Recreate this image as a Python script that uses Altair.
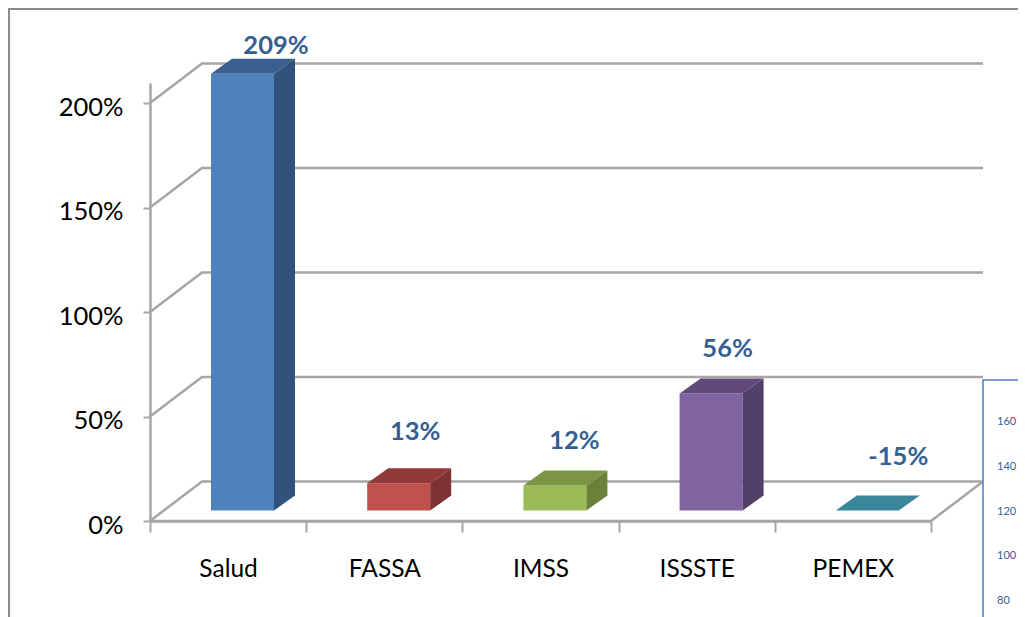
import altair as alt
import pandas as pd

# ---- chart values ----
categories = ["Salud", "FASSA", "IMSS", "ISSSTE", "PEMEX"]
values = [2.09, 0.13, 0.12, 0.56, -0.15]
value_labels = ["209%", "13%", "12%", "56%", "-15%"]
y_ticks = [0, 0.5, 1.0, 1.5, 2.0]
inset_ticks = [160, 140, 120, 100, 80]

# ---- styles ----
front_colors = ["#4f81bd", "#c0504d", "#9bbb59", "#8064a2", "#31859c"]
side_colors = ["#31527b", "#7d3331", "#6b8039", "#523f6a", "#31859c"]
top_colors = ["#3a6091", "#8f3a38", "#7b9544", "#604a7b", "#3a869b"]
GRID = "#a6a6a6"
FONT = "Lato"

# ---- geometry: one category = 156.2 px, 100% = 209 px ----
PW, PH = 781, 438
PX_U = PW / 5
PX_V = PH / 2.096
FLOOR_DX = 52 / PX_U
FLOOR_DY = 39.5 / PX_V
BAR_X = 61 / PX_U
BAR_W = 63 / PX_U
BAR_BASE = 10.5 / PX_V
BAR_DX = 21 / PX_U
BAR_DY = 15 / PX_V
label_dx_px = [33.5, 16.5, 19.5, 16.5, 31]
label_dy_px = [28, 51, 44, 44, 54]

xs = alt.Scale(domain=[0, 5], nice=False, zero=False)
ys = alt.Scale(domain=[0, 2.096], nice=False, zero=False)

bars = pd.DataFrame({"cat": categories, "v": values, "front": front_colors,
                     "side": side_colors, "top": top_colors})
bars["i"] = range(5)
bars["x0"] = bars.i + BAR_X
bars["x1"] = bars.x0 + BAR_W
bars["base"] = BAR_BASE
bars["vtop"] = BAR_BASE + bars.v.clip(lower=0)

side_rows, top_rows = [], []
for r in bars.itertuples():
    if r.v > 0:
        side_rows += [
            dict(cat=r.cat, c=r.side, x=r.x1, y=r.base, y2=r.vtop),
            dict(cat=r.cat, c=r.side, x=r.x1 + BAR_DX, y=r.base + BAR_DY, y2=r.vtop + BAR_DY),
        ]
    top_rows += [
        dict(cat=r.cat, c=r.top, y=r.vtop, x=r.x0, x2=r.x1),
        dict(cat=r.cat, c=r.top, y=r.vtop + BAR_DY, x=r.x0 + BAR_DX, x2=r.x1 + BAR_DX),
    ]

grid_rows = []
for t in y_ticks:
    grid_rows += [
        dict(t=t, o=0, x=0, y=t),
        dict(t=t, o=1, x=FLOOR_DX, y=t + FLOOR_DY),
        dict(t=t, o=2, x=5 + FLOOR_DX, y=t + FLOOR_DY),
    ]
grid_rows += [
    dict(t=-1, o=0, x=0, y=0),
    dict(t=-1, o=1, x=5, y=0),
    dict(t=-1, o=2, x=5 + FLOOR_DX, y=FLOOR_DY),
]

labels = pd.DataFrame({
    "label": value_labels,
    "x": [i + BAR_X + BAR_W / 2 + d / PX_U for i, d in enumerate(label_dx_px)],
    "y": [b + d / PX_V for b, d in zip(bars.vtop, label_dy_px)],
})

inset = pd.DataFrame({"label": [str(t) for t in inset_ticks]})
inset["x"] = 847 / PX_U
inset["y"] = [(521 - (422 + (160 - t) * 2.2375)) / PX_V for t in inset_ticks]

X = lambda f: alt.X(f, type="quantitative", scale=xs, axis=None)
Y = lambda f: alt.Y(f, type="quantitative", scale=ys, title=None)

frame_left = alt.Chart(pd.DataFrame({"a": [0]})).mark_rule(color="#8c8c8c", strokeWidth=2).encode(
    x=alt.value(-141), y=alt.value(-75), y2=alt.value(534))
frame_top = alt.Chart(pd.DataFrame({"a": [0]})).mark_rule(color="#8c8c8c", strokeWidth=2).encode(
    y=alt.value(-74), x=alt.value(-141), x2=alt.value(876))

grid = alt.Chart(pd.DataFrame(grid_rows)).mark_line(color=GRID, strokeWidth=2.5).encode(
    x=X("x"), y=Y("y"), detail="t:N", order="o:Q")

axes = alt.Chart(bars).mark_point(opacity=0).encode(
    x=alt.X("cat:N", sort=categories, title=None,
            scale=alt.Scale(paddingInner=0, paddingOuter=0),
            axis=alt.Axis(tickBand="extent", labelAngle=0, labelFont=FONT, labelFontSize=24.5,
                          labelColor="#000000", labelPadding=25, tickSize=11, tickWidth=2,
                          tickColor=GRID, domainColor=GRID, domainWidth=2.5, grid=False)),
    y=alt.Y("v:Q", scale=ys, title=None,
            axis=alt.Axis(values=y_ticks, format=".0%", labelFont=FONT, labelFontSize=25.5,
                          labelColor="#000000", labelPadding=20, labelOffset=4, tickSize=7, tickWidth=2,
                          tickColor=GRID, domainColor=GRID, domainWidth=2.5, grid=False)),
)

front = alt.Chart(bars[bars.v > 0]).mark_rect().encode(
    x=X("x0"), x2="x1:Q", y=Y("base"), y2="vtop:Q",
    color=alt.Color("front:N", scale=None))

side = alt.Chart(pd.DataFrame(side_rows)).mark_area(orient="vertical").encode(
    x=X("x"), y=Y("y"), y2="y2:Q", color=alt.Color("c:N", scale=None), detail="cat:N")

top = alt.Chart(pd.DataFrame(top_rows)).mark_area(orient="horizontal").encode(
    y=Y("y"), x=X("x"), x2="x2:Q", color=alt.Color("c:N", scale=None), detail="cat:N")

text = alt.Chart(labels).mark_text(font=FONT, fontWeight="bold", fontSize=25.5, color="#365f91",
                                   align="center", baseline="middle").encode(
    x=X("x"), y=Y("y"), text="label:N")

inset_box = alt.Chart(pd.DataFrame({"a": [0]})).mark_rect(
    fill="#ffffff", stroke="#4a7ebb", strokeWidth=1.5).encode(
    x=alt.value(833), x2=alt.value(900), y=alt.value(297), y2=alt.value(560))

inset_text = alt.Chart(inset).mark_text(font=FONT, fontSize=11, color="#376092",
                                        align="left", baseline="middle").encode(
    x=X("x"), y=Y("y"), text="label:N")

chart = alt.layer(frame_left, frame_top, grid, axes, front, side, top, text, inset_box, inset_text).resolve_scale(
    x="independent"
).properties(
    width=PW, height=PH,
    padding={"left": 142, "top": 75, "right": 87, "bottom": 96},
    autosize=alt.AutoSizeParams(type="none"),
).configure_view(stroke=None)

chart.save("out.html", embed_options={"renderer": "svg", "actions": False})
